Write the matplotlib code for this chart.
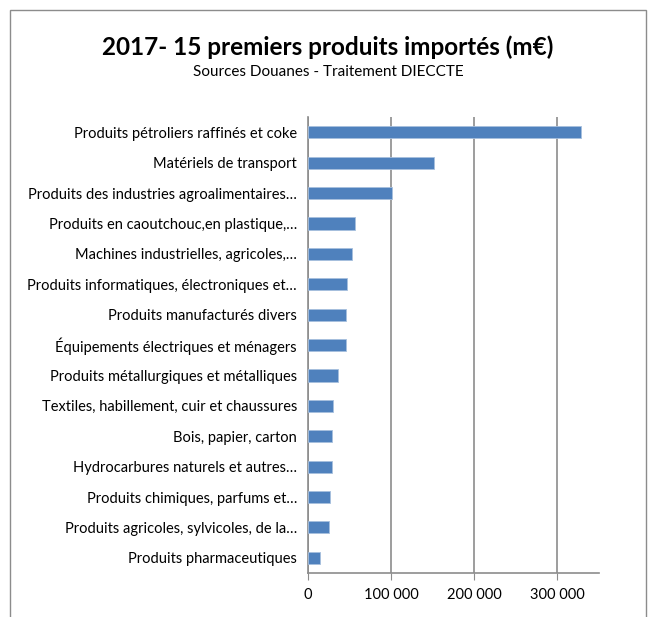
import matplotlib.pyplot as plt
import matplotlib.ticker as ticker
from matplotlib.patches import Rectangle

plt.rcParams['font.family'] = ['Lato', 'DejaVu Sans']

produits = [
    "Produits pétroliers raffinés et coke",
    "Matériels de transport",
    "Produits des industries agroalimentaires…",
    "Produits en caoutchouc,en plastique,…",
    "Machines industrielles, agricoles,…",
    "Produits informatiques, électroniques et…",
    "Produits manufacturés divers",
    "Équipements électriques et ménagers",
    "Produits métallurgiques et métalliques",
    "Textiles, habillement, cuir et chaussures",
    "Bois, papier, carton",
    "Hydrocarbures naturels et autres…",
    "Produits chimiques, parfums et…",
    "Produits agricoles, sylvicoles, de la…",
    "Produits pharmaceutiques",
]
valeurs = [327800, 151400, 101300, 56100, 52900, 46900, 45700, 45300,
           35700, 29700, 29200, 28400, 26800, 25200, 14800]

fig = plt.figure(figsize=(6.56, 6.17), dpi=100)
ax = fig.add_axes([0.4695, 0.0713, 0.4436, 0.739])

# cadre du graphique
fig.patches.append(Rectangle((10 / 656, -0.05), 636 / 656, 1.05 - 10 / 617,
                             transform=fig.transFigure, fill=False,
                             edgecolor='#8c8c8c', linewidth=1))

pos = list(range(len(produits)))[::-1]
ax.barh(pos, valeurs, height=0.4, color='#4f81bd', edgecolor='#a7c0de',
        linewidth=0.6, zorder=3)

ax.set_xlim(0, 350000)
ax.set_ylim(-0.5, len(produits) - 0.5)
ax.set_xticks([0, 100000, 200000, 300000])
ax.xaxis.set_major_formatter(ticker.FuncFormatter(
    lambda v, p: '{:,.0f}'.format(v).replace(',', ' ')))
ax.set_yticks(pos)
ax.set_yticklabels(produits)

ax.grid(axis='x', color='#8c8c8c', linewidth=1.2, zorder=0)
for s in ['top', 'right']:
    ax.spines[s].set_visible(False)
for s in ['left', 'bottom']:
    ax.spines[s].set_color('#8c8c8c')
    ax.spines[s].set_linewidth(1.2)
ax.tick_params(axis='x', colors='#8c8c8c', labelcolor='black', length=5,
               labelsize=10.5, pad=6)
ax.tick_params(axis='y', length=0, labelsize=10.5, pad=8)

fig.text(0.5, 0.924, "2017- 15 premiers produits importés (m€)",
         ha='center', va='center', fontsize=17.5, fontweight='bold')
fig.text(0.5, 0.884, "Sources Douanes - Traitement DIECCTE",
         ha='center', va='center', fontsize=11)

plt.savefig('out.png', dpi=100)
